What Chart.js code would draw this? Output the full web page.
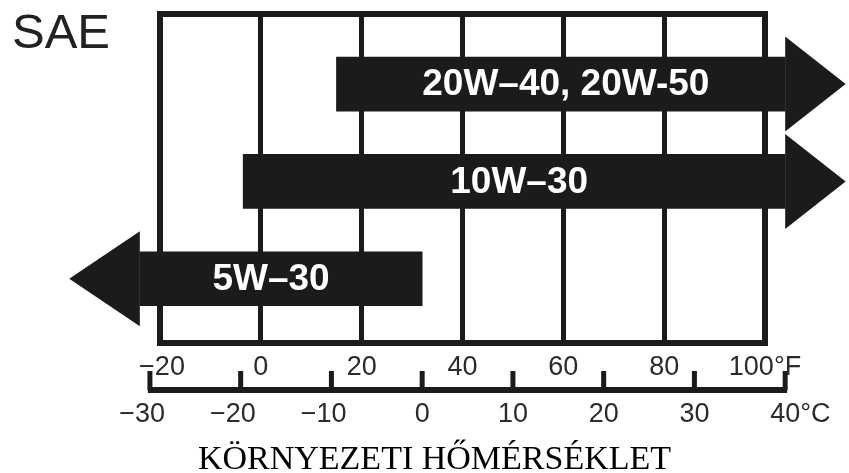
<!DOCTYPE html>
<html>
<head>
	<title>SAE viszkozitás</title>
	<script src="https://cdn.jsdelivr.net/npm/chart.js"></script>
	<style>
		body { margin: 0; background: #fff; }
		#wrap { width: 849px; height: 473px; }
	</style>
</head>
<body>
	<div id="wrap">
		<canvas id="myChart"></canvas>
	</div>
	<script>
		// oil grades, one arrow per row (temperatures in °F)
		const grades = ['20W\u201340, 20W-50', '10W\u201330', '5W\u201330'];
		const rowPos = [1, 2, 3];
		const bodyStart = [15, -3.5, -24];
		const bodyEnd = [104, 104, 32];
		const arrowTip = [116, 116, -38];

		// tick labels of the temperature scale
		const fahrenheitTicks = [-20, 0, 20, 40, 60, 80, 100];
		const celsiusTicks = [-30, -20, -10, 0, 10, 20, 30, 40];

		const ink = '#1b1b1b';
		const labelFont = '27px "Liberation Sans", Arial, sans-serif';

		function minus(v) {
			return v < 0 ? '\u2212' + Math.abs(v) : String(v);
		}

		// frame round the plot area
		const framePlugin = {
			id: 'frame',
			beforeDatasetsDraw(chart) {
				const a = chart.chartArea, ctx = chart.ctx;
				ctx.save();
				ctx.strokeStyle = ink;
				ctx.lineWidth = 6;
				ctx.strokeRect(a.left, a.top, a.right - a.left, a.bottom - a.top);
				ctx.restore();
			}
		};

		// arrow heads and the grade names
		const arrowPlugin = {
			id: 'arrows',
			afterDatasetsDraw(chart) {
				const ctx = chart.ctx, x = chart.scales.x;
				const meta = chart.getDatasetMeta(0);
				meta.data.forEach((bar, i) => {
					const right = arrowTip[i] > bodyEnd[i];
					const base = x.getPixelForValue(right ? bodyEnd[i] : bodyStart[i]);
					const tip = x.getPixelForValue(arrowTip[i]);
					const half = bar.height * 0.88;
					ctx.save();
					ctx.fillStyle = ink;
					ctx.beginPath();
					ctx.moveTo(base, bar.y - half);
					ctx.lineTo(tip, bar.y);
					ctx.lineTo(base, bar.y + half);
					ctx.closePath();
					ctx.fill();
					const cx = (x.getPixelForValue(bodyStart[i]) + x.getPixelForValue(bodyEnd[i])) / 2;
					ctx.fillStyle = '#fff';
					ctx.font = 'bold 37px "Liberation Sans", Arial, sans-serif';
					ctx.textAlign = 'center';
					ctx.textBaseline = 'middle';
					ctx.fillText(grades[i], cx + (right ? 5 : -10), bar.y + 1);
					ctx.restore();
				});
			}
		};

		// combined °F / °C scale under the plot and the texts
		const scalePlugin = {
			id: 'tempScale',
			afterDraw(chart) {
				const ctx = chart.ctx, x = chart.scales.x, a = chart.chartArea;
				const cpx = c => x.getPixelForValue(c * 9 / 5 + 32);
				const lineY = a.bottom + 47;
				ctx.save();
				ctx.strokeStyle = ink;
				ctx.lineWidth = 6;
				ctx.beginPath();
				ctx.moveTo(cpx(celsiusTicks[0]) - 2, lineY);
				ctx.lineTo(cpx(celsiusTicks[celsiusTicks.length - 1]) + 2, lineY);
				ctx.stroke();
				ctx.lineWidth = 5;
				celsiusTicks.forEach(c => {
					ctx.beginPath();
					ctx.moveTo(cpx(c), lineY);
					ctx.lineTo(cpx(c), lineY - 19);
					ctx.stroke();
				});

				ctx.fillStyle = '#2b2b2b';
				ctx.font = labelFont;
				ctx.textBaseline = 'middle';
				ctx.textAlign = 'center';
				fahrenheitTicks.forEach((f, i) => {
					let t = minus(f);
					if (i === fahrenheitTicks.length - 1) t += '\u00b0F';
					ctx.fillText(t, x.getPixelForValue(f) + (f < 0 ? 2 : 0), lineY - 22);
				});
				ctx.textAlign = 'left';
				celsiusTicks.forEach((c, i) => {
					const digits = String(Math.abs(c));
					const w = ctx.measureText(digits).width;
					let t = minus(c);
					if (i === celsiusTicks.length - 1) t += '\u00b0C';
					const full = ctx.measureText(minus(c)).width;
					ctx.fillText(t, cpx(c) + w / 2 - full, lineY + 25);
				});

				ctx.font = '49px "Liberation Sans", Arial, sans-serif';
				ctx.fillStyle = '#222';
				ctx.textBaseline = 'alphabetic';
				ctx.textAlign = 'left';
				ctx.fillText('SAE', 12, 48);

				ctx.font = '34px "Liberation Serif", "Times New Roman", serif';
				ctx.fillStyle = '#000';
				ctx.textAlign = 'center';
				ctx.fillText('K\u00d6RNYEZETI H\u0150M\u00c9RS\u00c9KLET', chart.width / 2 + 10, 469);
				ctx.restore();
			}
		};

		const ctx = document.getElementById('myChart');
		new Chart(ctx, {
			type: 'bar',
			data: {
				datasets: [{
					data: rowPos.map((r, i) => ({ y: r, x: [bodyStart[i], bodyEnd[i]] })),
					backgroundColor: ink,
					borderWidth: 0,
					barThickness: 54,
					clip: false
				}]
			},
			options: {
				indexAxis: 'y',
				responsive: true,
				maintainAspectRatio: false,
				animation: false,
				layout: { padding: { left: 160, right: 84, top: 14, bottom: 130 } },
				plugins: {
					legend: { display: false },
					tooltip: { enabled: false }
				},
				scales: {
					x: {
						type: 'linear',
						min: -20,
						max: 100,
						ticks: { display: false, stepSize: 20 },
						grid: { color: ink, lineWidth: 5, drawTicks: false },
						border: { display: false }
					},
					y: {
						type: 'linear',
						reverse: true,
						offset: false,
						min: 0.28,
						max: 3.66,
						display: false
					}
				}
			},
			plugins: [framePlugin, arrowPlugin, scalePlugin]
		});
	</script>
</body>
</html>
